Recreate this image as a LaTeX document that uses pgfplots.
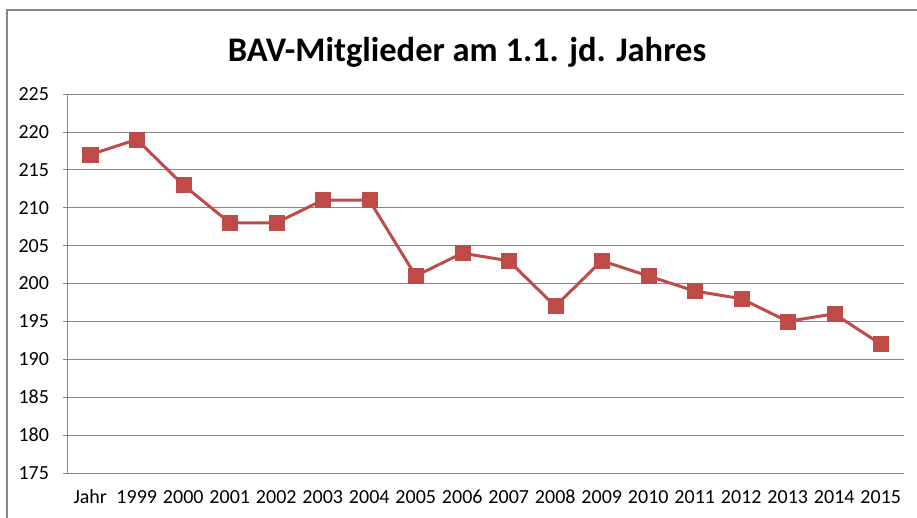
\documentclass[border=0pt]{standalone}
\usepackage{pgfplots}
\pgfplotsset{compat=1.18}
\usepackage{fontspec}
\setmainfont{Carlito}
\definecolor{exred}{HTML}{BE4B48}
\definecolor{framegray}{HTML}{868686}
\definecolor{gridgray}{HTML}{878787}
\begin{document}
\begin{tikzpicture}[x=1pt,y=1pt]
\path[use as bounding box] (0,0) rectangle (917,517);
\begin{scope}
\clip (0,0) rectangle (917,517);
\draw[framegray, line width=2pt] (7,-10) rectangle (930,507);
\end{scope}
\node[font=\bfseries\fontsize{34.5}{40}\selectfont, anchor=base] at (467,455) {BAV-Mitglieder am 1.1. jd. Jahres};
\begin{axis}[
  at={(67pt,44pt)}, anchor=south west,
  width=837pt, height=379pt, scale only axis,
  xmin=-0.5, xmax=17.5, ymin=175, ymax=225,
  ytick={175,180,...,225},
  xtick={0,...,17},
  xticklabels={Jahr,1999,2000,2001,2002,2003,2004,2005,2006,2007,2008,2009,2010,2011,2012,2013,2014,2015},
  extra x ticks={-0.5,0.5,...,17.5},
  extra x tick labels={},
  extra x tick style={major tick length=6pt, tick align=outside, tick style={gridgray, line width=0.8pt}},
  x tick style={draw=none},
  major tick length=7pt,
  tick align=outside,
  y tick style={gridgray, line width=0.8pt},
  axis lines=left,
  axis line style={-, gridgray, line width=0.8pt},
  ymajorgrids,
  grid style={gridgray, line width=0.8pt},
  ticklabel style={font=\fontsize{20}{22}\selectfont},
  /pgf/number format/assume math mode=true,
  xticklabel style={yshift=-10pt},
  yticklabel style={xshift=-11pt},
  clip=false,
]
\addplot[exred, line width=3pt, mark=square*, mark size=7.5pt, mark options={fill=exred, draw=exred, line width=0.5pt}] coordinates {
(0,217) (1,219) (2,213) (3,208) (4,208) (5,211) (6,211) (7,201) (8,204) (9,203) (10,197) (11,203) (12,201) (13,199) (14,198) (15,195) (16,196) (17,192)
};
\end{axis}
\end{tikzpicture}
\end{document}
